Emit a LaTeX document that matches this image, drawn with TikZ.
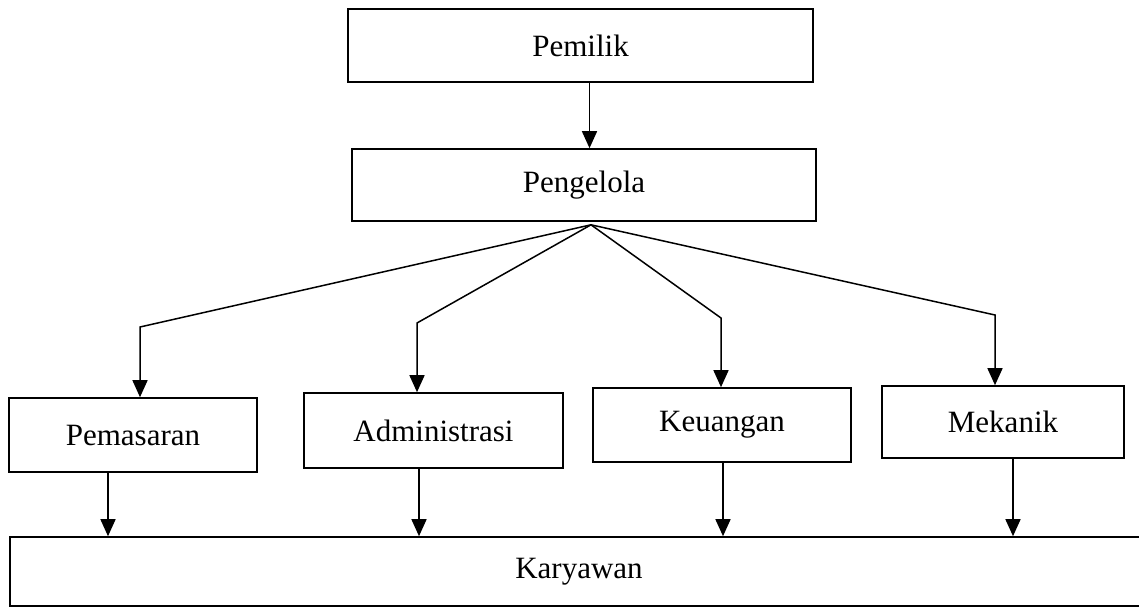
\documentclass[tikz,border=0pt]{standalone}
\usepackage{fontspec}
\setmainfont{Liberation Serif}
\usetikzlibrary{arrows.meta}
\begin{document}
\begin{tikzpicture}[x=1pt,y=-1pt,
  box/.style={draw, line width=1.6pt, inner sep=0pt, fill=white, font=\fontsize{31}{31}\selectfont},
  conn/.style={line width=1.5pt},
  arr/.style={conn, -{Triangle[length=17pt,width=15pt]}}]
\useasboundingbox (0,0) rectangle (1139,613);
% boxes
\node[box, minimum width=465pt, minimum height=73pt] (pemilik) at (580.5,45.5) {Pemilik};
\node[box, minimum width=464pt, minimum height=72pt] (peng) at (584,185) {Pengelola};
\node[box, minimum width=248pt, minimum height=74pt] (pem) at (133,435) {Pemasaran};
\node[box, minimum width=259pt, minimum height=75pt] (adm) at (433.5,430.5) {Administrasi};
\node[box, minimum width=258pt, minimum height=74pt] (keu) at (722,425) {Keuangan};
\node[box, minimum width=242pt, minimum height=72pt] (mek) at (1003,422) {Mekanik};
\node[box, minimum width=1138pt, minimum height=69pt] (kar) at (579,571.5) {Karyawan};
% helper coordinates
\coordinate (top) at ([xshift=9pt]pemilik.south);
\coordinate (fan) at ([xshift=7pt,yshift=-3pt]peng.south);
\coordinate (b1) at (140,327);
\coordinate (b2) at (417,323);
\coordinate (b3) at (721,318);
\coordinate (b4) at (995,315);
\coordinate (d1) at (108,0);
\coordinate (d2) at (419,0);
\coordinate (d3) at (723,0);
\coordinate (d4) at (1013,0);
% connectors
\draw[arr] (top) -- (top |- peng.north);
\draw[arr] (fan) -- (b1) -- (b1 |- pem.north);
\draw[arr] (fan) -- (b2) -- (b2 |- adm.north);
\draw[arr] (fan) -- (b3) -- (b3 |- keu.north);
\draw[arr] (fan) -- (b4) -- (b4 |- mek.north);
\draw[arr] (pem.south -| d1) -- (kar.north -| d1);
\draw[arr] (adm.south -| d2) -- (kar.north -| d2);
\draw[arr] (keu.south -| d3) -- (kar.north -| d3);
\draw[arr] (mek.south -| d4) -- (kar.north -| d4);
\end{tikzpicture}
\end{document}
